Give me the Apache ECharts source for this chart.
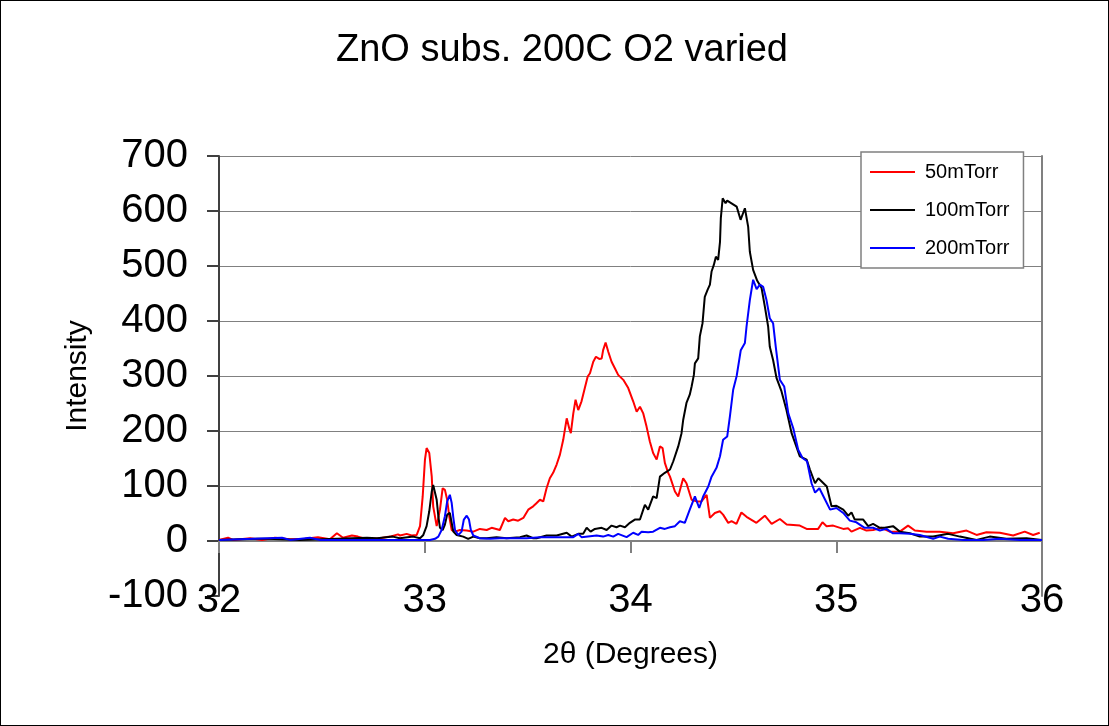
<!DOCTYPE html>
<html>
<head>
<meta charset="utf-8">
<script src="https://cdn.jsdelivr.net/npm/echarts@6/dist/echarts.min.js"></script>
<style>
html,body{margin:0;padding:0;background:#fff;}
#chart{width:1109px;height:726px;position:absolute;left:0;top:0;}
#frame{position:absolute;left:0;top:0;width:1109px;height:726px;box-sizing:border-box;border:1px solid #000;pointer-events:none;}
</style>
</head>
<body>
<div id="chart"></div>
<div id="frame"></div>
<script>
const titleText = 'ZnO subs. 200C O2 varied';
const xName = '2θ (Degrees)';
const yName = 'Intensity';
const seriesNames = ['50mTorr', '100mTorr', '200mTorr'];
const xTicks = [32, 33, 34, 35, 36];
const yTicks = [-100, 0, 100, 200, 300, 400, 500, 600, 700];

const red50 = [
[32.000,2],[32.044,6],[32.068,2],[32.151,5],[32.209,2],[32.272,6],[32.345,3],[32.418,4],[32.481,7],[32.539,3],
[32.573,14],[32.603,6],[32.646,10],[32.675,8],[32.724,3],[32.782,5],[32.831,8],[32.870,12],[32.880,10],[32.912,13],
[32.936,10],[32.961,11],[32.977,27],[32.990,81],[33.001,148],[33.009,169],[33.022,160],[33.034,117],[33.041,63],[33.058,27],
[33.074,57],[33.087,96],[33.098,93],[33.109,75],[33.119,45],[33.131,20],[33.147,17],[33.171,20],[33.204,19],[33.236,17],
[33.268,22],[33.301,20],[33.325,24],[33.365,20],[33.390,42],[33.406,36],[33.430,39],[33.454,37],[33.479,42],[33.503,57],
[33.527,63],[33.544,69],[33.560,75],[33.576,72],[33.592,96],[33.608,114],[33.624,124],[33.641,139],[33.657,157],[33.673,184],
[33.690,223],[33.702,205],[33.710,196],[33.722,232],[33.733,257],[33.746,238],[33.762,254],[33.778,278],[33.792,299],[33.803,305],
[33.819,326],[33.832,335],[33.848,331],[33.860,332],[33.867,347],[33.879,361],[33.892,344],[33.908,326],[33.924,314],[33.940,302],
[33.965,293],[33.989,278],[34.013,254],[34.030,235],[34.046,244],[34.062,232],[34.078,208],[34.094,181],[34.110,160],[34.127,148],
[34.143,172],[34.156,169],[34.167,142],[34.183,124],[34.192,117],[34.216,90],[34.232,81],[34.256,114],[34.272,105],[34.297,75],
[34.321,72],[34.345,72],[34.370,84],[34.386,42],[34.410,51],[34.434,54],[34.450,48],[34.475,33],[34.491,36],[34.515,31],
[34.539,52],[34.564,44],[34.612,33],[34.653,46],[34.686,31],[34.726,40],[34.759,30],[34.823,28],[34.856,22],[34.912,22],
[34.933,34],[34.953,27],[34.985,28],[35.034,22],[35.058,23],[35.074,17],[35.115,24],[35.147,19],[35.179,20],[35.220,24],
[35.260,17],[35.309,17],[35.349,28],[35.382,19],[35.439,17],[35.503,17],[35.568,14],[35.633,19],[35.682,11],[35.730,16],
[35.795,15],[35.860,10],[35.916,17],[35.957,11],[35.989,15]
];

const black100 = [
[32.000,2],[32.185,4],[32.233,4],[32.394,2],[32.719,6],[32.768,5],[32.845,8],[32.879,5],[32.944,8],[32.977,5],
[32.993,11],[33.009,27],[33.022,54],[33.034,90],[33.041,102],[33.050,105],[33.058,75],[33.066,45],[33.074,24],[33.087,20],
[33.098,30],[33.109,48],[33.122,51],[33.131,33],[33.139,17],[33.155,11],[33.187,8],[33.211,4],[33.236,8],[33.268,5],
[33.301,5],[33.349,7],[33.398,5],[33.463,7],[33.495,10],[33.527,5],[33.544,5],[33.592,10],[33.641,10],[33.690,15],
[33.714,8],[33.746,13],[33.770,13],[33.787,24],[33.806,17],[33.827,22],[33.860,24],[33.884,20],[33.908,28],[33.932,25],
[33.949,28],[33.973,25],[33.997,33],[34.021,39],[34.046,39],[34.062,57],[34.070,66],[34.086,57],[34.110,81],[34.127,78],
[34.143,117],[34.167,124],[34.192,130],[34.208,145],[34.232,172],[34.248,196],[34.256,220],[34.272,251],[34.288,266],[34.297,281],
[34.308,302],[34.313,323],[34.329,332],[34.337,372],[34.350,396],[34.361,444],[34.375,457],[34.386,466],[34.394,490],[34.405,502],
[34.415,517],[34.426,511],[34.435,544],[34.439,587],[34.448,623],[34.462,614],[34.470,619],[34.491,614],[34.516,608],[34.535,584],
[34.556,605],[34.572,571],[34.580,526],[34.596,493],[34.616,473],[34.637,460],[34.653,426],[34.669,390],[34.677,353],[34.693,329],
[34.710,296],[34.734,272],[34.758,238],[34.783,196],[34.823,154],[34.856,148],[34.872,130],[34.897,105],[34.913,114],[34.954,99],
[34.977,63],[35.001,64],[35.034,57],[35.058,46],[35.074,52],[35.090,39],[35.131,39],[35.155,27],[35.179,31],[35.212,24],
[35.236,24],[35.276,27],[35.309,17],[35.358,14],[35.406,8],[35.471,8],[35.544,13],[35.601,8],[35.682,2],[35.746,8],
[35.827,4],[35.925,5],[36.000,2]
];

const blue200 = [
[32.000,2],[32.306,6],[32.345,2],[32.442,6],[32.491,2],[32.879,2],[33.025,2],[33.050,4],[33.066,8],[33.082,20],
[33.098,45],[33.109,72],[33.122,84],[33.131,69],[33.139,42],[33.147,20],[33.163,11],[33.179,17],[33.190,39],[33.204,46],
[33.215,39],[33.224,20],[33.236,10],[33.268,5],[33.317,4],[33.365,5],[33.430,5],[33.495,5],[33.560,7],[33.624,7],
[33.722,7],[33.746,13],[33.762,7],[33.835,10],[33.867,8],[33.892,11],[33.916,8],[33.940,13],[33.981,7],[34.013,15],
[34.037,11],[34.054,17],[34.086,16],[34.110,17],[34.143,24],[34.167,22],[34.192,25],[34.216,27],[34.240,36],[34.264,33],
[34.288,57],[34.313,81],[34.334,60],[34.353,81],[34.378,99],[34.394,117],[34.418,133],[34.435,154],[34.450,184],[34.470,190],
[34.483,226],[34.499,275],[34.516,300],[34.536,347],[34.556,360],[34.564,390],[34.580,438],[34.596,475],[34.613,458],[34.629,466],
[34.645,462],[34.661,438],[34.677,405],[34.693,396],[34.706,353],[34.726,293],[34.747,281],[34.767,232],[34.791,205],[34.815,166],
[34.836,151],[34.858,145],[34.880,105],[34.897,88],[34.918,96],[34.946,75],[34.970,57],[35.001,60],[35.034,51],[35.066,37],
[35.098,34],[35.138,24],[35.179,24],[35.212,19],[35.244,22],[35.276,14],[35.309,14],[35.358,13],[35.406,11],[35.471,4],
[35.503,8],[35.544,4],[35.617,2],[35.715,2],[35.795,4],[35.892,2],[36.000,2]
];

const font = 'Liberation Sans, Arial, sans-serif';
const chart = echarts.init(document.getElementById('chart'), null, {renderer: 'canvas'});

const splitColors = yTicks.map(v => v === yTicks[0] ? 'rgba(0,0,0,0)' : '#808080');

chart.setOption({
  animation: false,
  backgroundColor: '#ffffff',
  title: {
    text: titleText,
    left: 331,
    top: 27,
    textStyle: {fontFamily: font, fontSize: 38, fontWeight: 'normal', color: '#000'}
  },
  legend: {
    data: seriesNames,
    orient: 'vertical',
    left: 861,
    top: 152,
    padding: [10, 14, 10, 9],
    itemGap: 18,
    itemWidth: 45,
    itemHeight: 2,
    icon: 'rect',
    backgroundColor: '#ffffff',
    borderColor: '#808080',
    borderWidth: 1.5,
    textStyle: {fontFamily: font, fontSize: 20, color: '#000', padding: [0, 0, 0, 5]}
  },
  grid: {left: 219, right: 67, top: 156, bottom: 130, containLabel: false, outerBoundsMode: 'none'},
  xAxis: {
    type: 'value',
    min: xTicks[0],
    max: xTicks[xTicks.length - 1],
    interval: 1,
    name: xName,
    nameLocation: 'middle',
    nameGap: 44,
    nameTextStyle: {fontFamily: font, fontSize: 30, color: '#000'},
    axisLine: {show: true, onZero: true, lineStyle: {color: '#808080', width: 2}},
    axisTick: {show: true, length: 12, lineStyle: {color: '#808080', width: 2}},
    axisLabel: {fontFamily: font, fontSize: 40, color: '#000', margin: -15},
    splitLine: {show: false}
  },
  yAxis: [{
    type: 'value',
    min: yTicks[0],
    max: yTicks[yTicks.length - 1],
    interval: 100,
    name: yName,
    nameLocation: 'middle',
    nameGap: 126,
    nameRotate: 90,
    nameTextStyle: {fontFamily: font, fontSize: 30, color: '#000'},
    axisLine: {show: true, onZero: false, lineStyle: {color: '#404040', width: 2}},
    axisTick: {show: true, length: 12, lineStyle: {color: '#404040', width: 2}},
    axisLabel: {fontFamily: font, fontSize: 40, color: '#000', margin: 31},
    splitLine: {show: true, lineStyle: {color: splitColors, width: 1}}
  }, {
    type: 'value',
    position: 'right',
    min: yTicks[0],
    max: yTicks[yTicks.length - 1],
    interval: 100,
    axisLine: {show: true, onZero: false, lineStyle: {color: '#808080', width: 2}},
    axisTick: {show: false},
    axisLabel: {show: false},
    splitLine: {show: false}
  }],
  series: [
    {name: seriesNames[0], type: 'line', data: red50, symbol: 'none', lineStyle: {color: '#ff0000', width: 2}, itemStyle: {color: '#ff0000'}},
    {name: seriesNames[1], type: 'line', data: black100, symbol: 'none', lineStyle: {color: '#000000', width: 2}, itemStyle: {color: '#000000'}},
    {name: seriesNames[2], type: 'line', data: blue200, symbol: 'none', lineStyle: {color: '#0000ff', width: 2}, itemStyle: {color: '#0000ff'}}
  ]
});
</script>
</body>
</html>
